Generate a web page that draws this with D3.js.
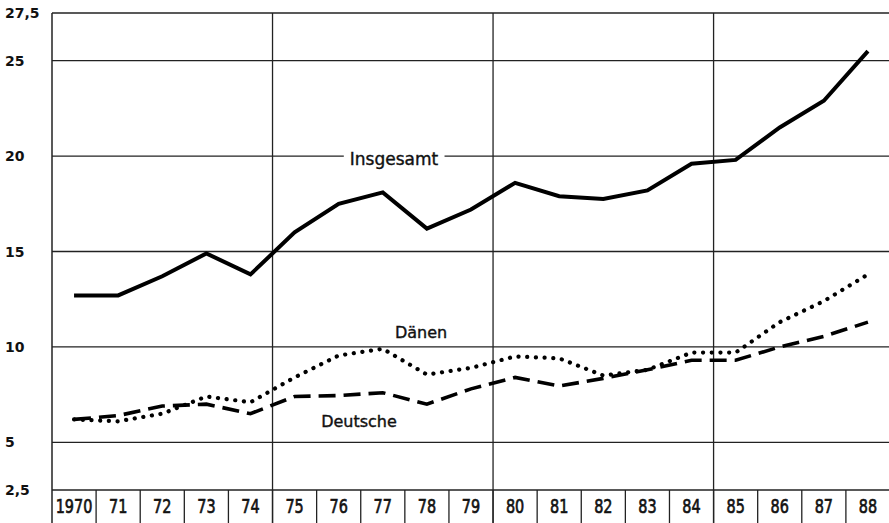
<!DOCTYPE html>
<html>
<head>
<meta charset="utf-8">
<script src="https://cdn.jsdelivr.net/npm/d3@7"></script>
<style>
  html, body { margin: 0; padding: 0; background: #fff; }
  svg { display: block; }
  text { font-family: "DejaVu Sans", sans-serif; fill: #111; }
</style>
</head>
<body>
<svg id="chart" width="889" height="523"></svg>
<script>
// ---- data ----
const years = ["1970","71","72","73","74","75","76","77","78","79","80","81","82","83","84","85","86","87","88"];
const insgesamt = [12.7, 12.7, 13.7, 14.9, 13.8, 16.0, 17.5, 18.1, 16.2, 17.2, 18.6, 17.9, 17.75, 18.2, 19.6, 19.8, 21.5, 22.9, 25.5];
const daenen    = [6.2, 6.1, 6.5, 7.4, 7.1, 8.4, 9.55, 9.9, 8.55, 8.9, 9.5, 9.4, 8.5, 8.8, 9.7, 9.7, 11.3, 12.4, 13.8];
const deutsche  = [6.2, 6.4, 6.9, 7.0, 6.5, 7.4, 7.45, 7.6, 7.0, 7.8, 8.4, 7.95, 8.35, 8.8, 9.3, 9.3, 10.0, 10.55, 11.3];
const yTicks = [2.5, 5, 10, 15, 20, 25, 27.5];
const gridYears = ["75", "80", "85"];
const seriesLabels = ["Insgesamt", "Dänen", "Deutsche"];

(function () {
// ---- layout ----
const svg = d3.select("#chart");
const mLeft = 52, mRight = 890, mTop = 13, mBottom = 490, H = 523;

const x = d3.scaleBand().domain(years).range([mLeft, mRight]).padding(0);
const y = d3.scaleLinear().domain([2.5, 27.5]).range([mBottom, mTop]);
const cx = d => x(d) + x.bandwidth() / 2;
const fmt = v => String(v).replace(".", ",");

const g = svg.append("g");

// horizontal grid lines
g.selectAll("line.h").data(yTicks).join("line")
  .attr("x1", mLeft).attr("x2", 889)
  .attr("y1", d => y(d)).attr("y2", d => y(d))
  .attr("stroke", "#222").attr("stroke-width", 1.3);

// left border
g.append("line").attr("x1", mLeft).attr("x2", mLeft).attr("y1", mTop).attr("y2", H)
  .attr("stroke", "#222").attr("stroke-width", 1.5);

// vertical grid lines (full height)
g.selectAll("line.v").data(gridYears).join("line")
  .attr("x1", d => x(d)).attr("x2", d => x(d))
  .attr("y1", mTop).attr("y2", H)
  .attr("stroke", "#222").attr("stroke-width", 1.3);

// year cell separators in the axis row
g.selectAll("line.cell").data(years.slice(1)).join("line")
  .attr("x1", d => x(d)).attr("x2", d => x(d))
  .attr("y1", mBottom).attr("y2", H)
  .attr("stroke", "#222").attr("stroke-width", 1.3);

// y tick labels
g.selectAll("text.ylab").data(yTicks).join("text")
  .attr("x", 5).attr("y", d => y(d) + 5)
  .attr("font-size", 14).attr("font-weight", "bold")
  .text(d => fmt(d));

// x labels (condensed)
g.selectAll("text.xlab").data(years).join("text")
  .attr("transform", d => `translate(${cx(d)},513) scale(0.76,1)`)
  .attr("text-anchor", "middle")
  .attr("font-size", 19)
  .attr("stroke", "#111").attr("stroke-width", 0.7)
  .text(d => d);

// lines
const line = d3.line().x((d, i) => cx(years[i])).y(d => y(d));

g.append("path").datum(insgesamt).attr("d", line)
  .attr("fill", "none").attr("stroke", "#000").attr("stroke-width", 4)
  .attr("stroke-linejoin", "miter");

g.append("path").datum(deutsche).attr("d", line)
  .attr("fill", "none").attr("stroke", "#000").attr("stroke-width", 3.6)
  .attr("stroke-dasharray", "17 8");

g.append("path").datum(daenen).attr("d", line)
  .attr("fill", "none").attr("stroke", "#000").attr("stroke-width", 4.2)
  .attr("stroke-linecap", "round")
  .attr("stroke-dasharray", "0.1 8.6");

// series labels
const lab1 = g.append("text").attr("x", 394).attr("y", 165)
  .attr("text-anchor", "middle").attr("font-size", 17)
  .attr("stroke", "#111").attr("stroke-width", 0.4).text(seriesLabels[0]);
const bb = lab1.node().getBBox();
g.insert("rect", function(){ return lab1.node(); })
  .attr("x", bb.x - 6).attr("y", y(20) - 2).attr("width", bb.width + 12).attr("height", 4)
  .attr("fill", "#fff");

g.append("text").attr("x", 421).attr("y", 338)
  .attr("text-anchor", "middle").attr("font-size", 16)
  .attr("stroke", "#111").attr("stroke-width", 0.4).text(seriesLabels[1]);
g.append("text").attr("x", 359).attr("y", 427)
  .attr("text-anchor", "middle").attr("font-size", 16)
  .attr("stroke", "#111").attr("stroke-width", 0.4).text(seriesLabels[2]);
})();
</script>
</body>
</html>
